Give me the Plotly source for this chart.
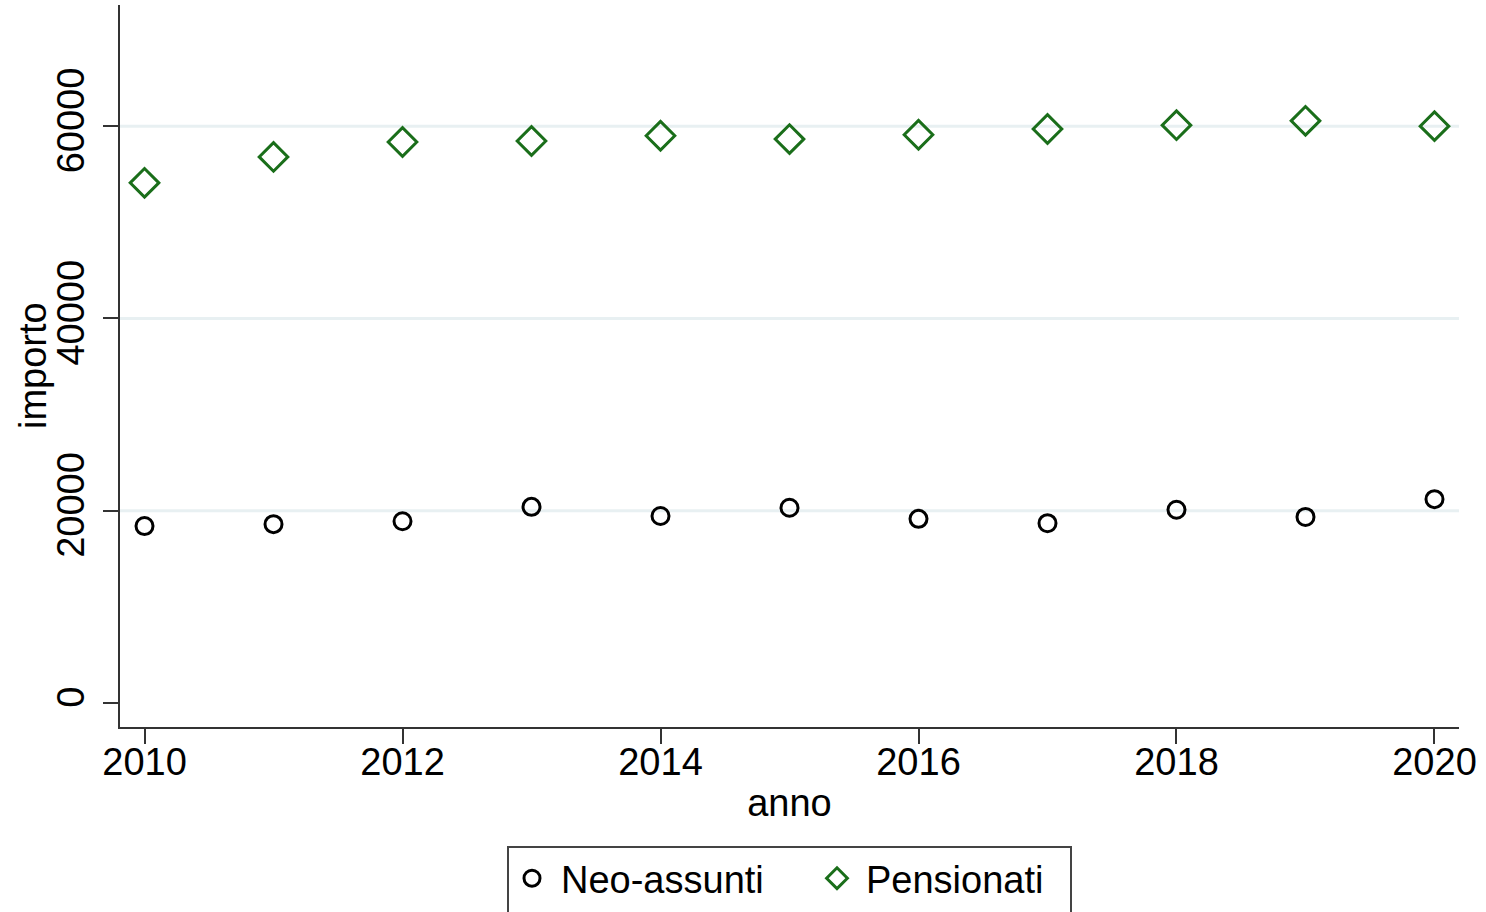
import plotly.graph_objects as go

anni = [2010, 2011, 2012, 2013, 2014, 2015, 2016, 2017, 2018, 2019, 2020]
neo_assunti = [18400, 18600, 18900, 20400, 19450, 20300, 19150, 18700, 20100, 19350, 21200]
pensionati = [54100, 56800, 58350, 58450, 59000, 58650, 59100, 59700, 60100, 60550, 60000]
x_ticks = [2010, 2012, 2014, 2016, 2018, 2020]
y_ticks = [0, 20000, 40000, 60000]
y_grid = [20000, 40000, 60000]

FONT = "Liberation Sans, Arial, sans-serif"
FS = 38

# plot area in pixels (for converting legend frame / title to paper coords)
W, H = 1486, 912
ML, MR, MT, MB = 120, 27, 5, 185
PW, PH = W - ML - MR, H - MT - MB


def px_x(p):
    return (p - ML) / PW


def px_y(p):
    return (H - MB - p) / PH


fig = go.Figure()
for g in y_grid:
    fig.add_hline(y=g, line=dict(color="#e8f0f2", width=3), layer="below")

fig.add_trace(go.Scatter(
    x=anni, y=neo_assunti, mode="markers", name="Neo-assunti",
    marker=dict(symbol="circle-open", size=17, color="black", line=dict(width=3, color="black")),
))
fig.add_trace(go.Scatter(
    x=anni, y=pensionati, mode="markers", name="Pensionati",
    marker=dict(symbol="diamond-open", size=22, color="#1a6e1a", line=dict(width=3, color="#1a6e1a")),
))

# legend frame
fig.add_shape(type="rect", xref="paper", yref="paper",
              x0=px_x(508), x1=px_x(1071), y0=px_y(847), y1=px_y(920),
              line=dict(color="#444444", width=2), fillcolor="rgba(0,0,0,0)")

# y-axis title
fig.add_annotation(text="importo", xref="paper", yref="paper",
                   x=px_x(33), y=0.5, xanchor="center", yanchor="middle",
                   textangle=-90, showarrow=False, font=dict(size=FS, color="black"))

fig.update_layout(
    width=W, height=H,
    margin=dict(l=ML, r=MR, t=MT, b=MB),
    paper_bgcolor="white", plot_bgcolor="white",
    font=dict(family=FONT, size=FS, color="black"),
    showlegend=True,
    legend=dict(
        orientation="h", x=px_x(503), xanchor="left", xref="paper",
        y=(H - 847) / H, yanchor="top", yref="container",
        bgcolor="rgba(0,0,0,0)", borderwidth=0, font=dict(size=FS),
        itemwidth=48, entrywidth=242, tracegroupgap=0,
    ),
    xaxis=dict(
        range=[2009.81, 2020.19], tickvals=x_ticks, ticktext=[str(v) for v in x_ticks],
        showgrid=False, zeroline=False, showline=True, linecolor="#333333", linewidth=2,
        ticks="outside", ticklen=15, tickwidth=2, tickcolor="#333333",
        ticklabelstandoff=-15,
        tickfont=dict(size=FS), title=dict(text="anno", font=dict(size=FS), standoff=8),
    ),
    yaxis=dict(
        range=[-2500, 72600], tickvals=y_ticks, ticktext=[str(v) for v in y_ticks],
        showgrid=False, zeroline=False,
        showline=True, linecolor="#333333", linewidth=2,
        ticks="outside", ticklen=15, tickwidth=2, tickcolor="#333333",
        tickangle=-90, tickfont=dict(size=FS), ticklabelstandoff=4,
    ),
)

fig.write_html("out.html", config={"displayModeBar": False},
               post_script="document.body.style.margin='0';")
